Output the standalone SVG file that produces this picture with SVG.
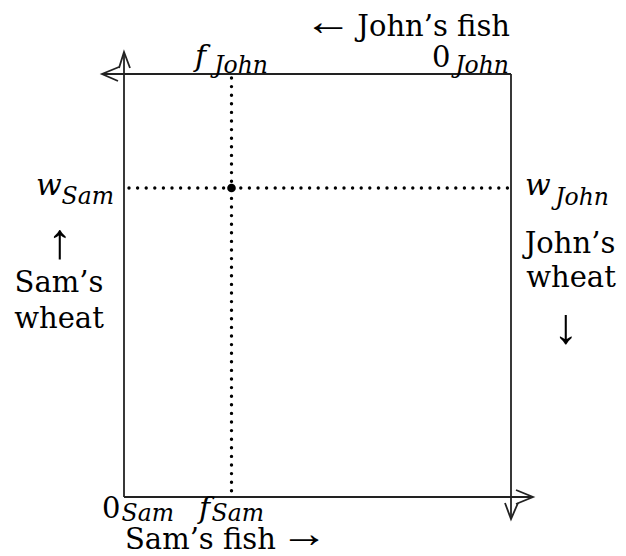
<svg xmlns="http://www.w3.org/2000/svg" width="626" height="556" viewBox="0 0 626 556">
<style>
.t{font-family:"DejaVu Serif",serif;font-size:29px;fill:#000}
.a{font-family:"Liberation Serif",serif;font-size:50px;fill:#000}
.h{font-family:"Liberation Serif",serif;font-size:40px;fill:#000}
.i{font-family:"DejaVu Serif",serif;font-style:italic;font-size:30px;fill:#000}
.s{font-family:"DejaVu Serif",serif;font-style:italic;font-size:23.5px;fill:#000}
.box{fill:none;stroke:#222;stroke-width:1.8}
.dot{fill:none;stroke:#000;stroke-width:3.4;stroke-linecap:round;stroke-dasharray:0 8.6}
</style>
<rect width="626" height="556" fill="#fff"/>
<g id="connectors">
  <line class="box" x1="124" y1="497" x2="124" y2="52"/>
  <line class="box" x1="511" y1="74" x2="102" y2="74"/>
  <line class="box" x1="124" y1="497" x2="533" y2="497"/>
  <line class="box" x1="511" y1="74" x2="511" y2="519"/>
  <polyline class="box" points="119,68 124,52 130,68"/>
  <polyline class="box" points="119,67 102,74 118,81"/>
  <polyline class="box" points="516,490 533,497 516,504"/>
  <polyline class="box" points="505,503 511,519 518,503"/>
  <line class="dot" x1="231.5" y1="78" x2="231.5" y2="495"/>
  <line class="dot" x1="129" y1="188" x2="509" y2="188"/>
</g>
<g id="endowment"><circle cx="231.5" cy="188" r="4.3" fill="#000"/></g>
<g id="top-axis">
  <text class="h" x="304" y="35" textLength="48" lengthAdjust="spacingAndGlyphs">←</text>
  <text class="t" x="510" y="36" text-anchor="end">John’s fish</text>
  <text class="t" x="432" y="67">0</text>
  <text class="s" x="509" y="73" text-anchor="end">John</text>
  <text class="i" x="195" y="66">f</text>
  <text class="s" x="268" y="73" text-anchor="end">John</text>
</g>
<g id="left-axis">
  <text class="i" x="36" y="195">w</text>
  <text class="s" x="114" y="204" text-anchor="end">Sam</text>
  <text class="a" x="60" y="258" text-anchor="middle">↑</text>
  <text class="t" x="59" y="292" text-anchor="middle">Sam’s</text>
  <text class="t" x="59" y="328" text-anchor="middle">wheat</text>
</g>
<g id="right-axis">
  <text class="i" x="525" y="195">w</text>
  <text class="s" x="609" y="205" text-anchor="end">John</text>
  <text class="t" x="570" y="253" text-anchor="middle">John’s</text>
  <text class="t" x="571" y="287" text-anchor="middle">wheat</text>
  <text class="a" x="566" y="343" text-anchor="middle">↓</text>
</g>
<g id="bottom-axis">
  <text class="t" x="102" y="518">0</text>
  <text class="s" x="174" y="521" text-anchor="end">Sam</text>
  <text class="i" x="199" y="518">f</text>
  <text class="s" x="264" y="521" text-anchor="end">Sam</text>
  <text class="t" x="125" y="549">Sam’s fish</text>
  <text class="h" x="280" y="547" textLength="48" lengthAdjust="spacingAndGlyphs">→</text>
</g>
</svg>
